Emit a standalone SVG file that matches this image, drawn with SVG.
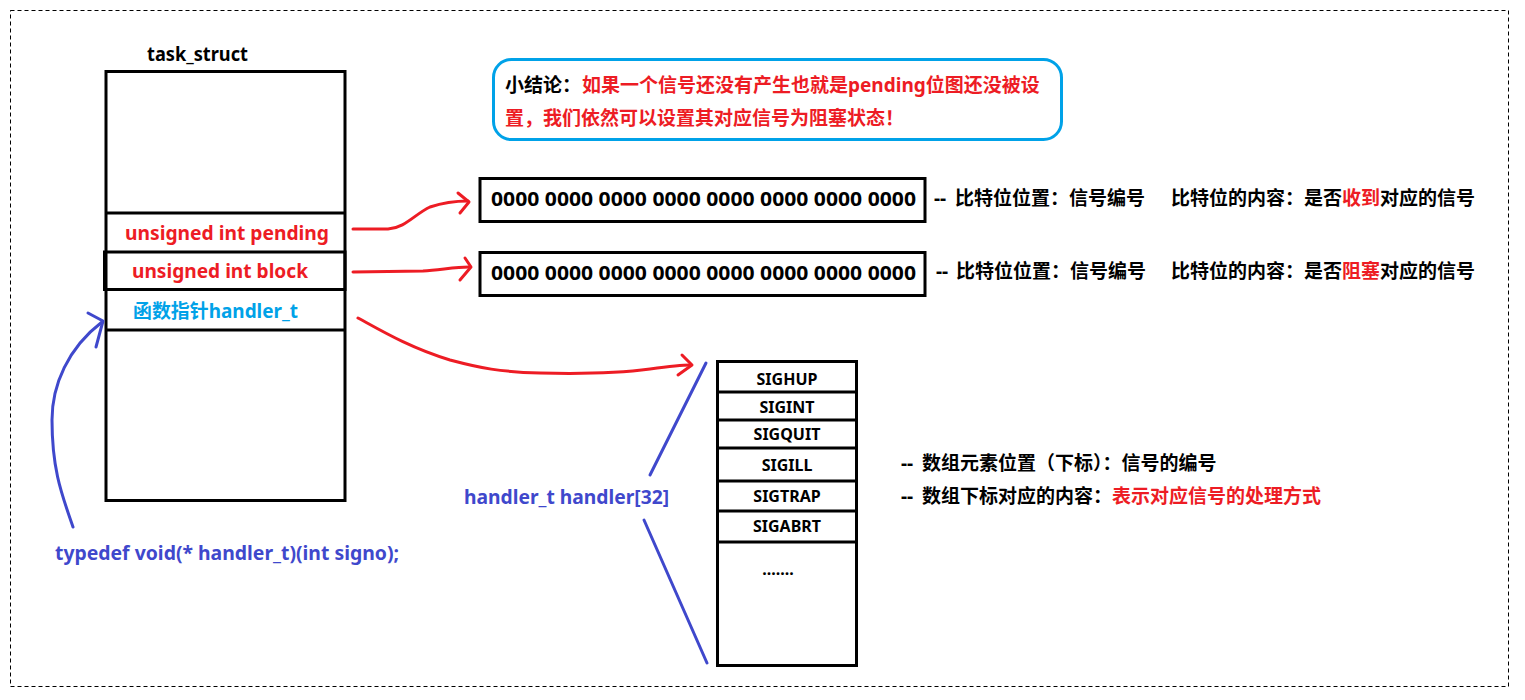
<svg xmlns="http://www.w3.org/2000/svg" width="1525" height="700" viewBox="0 0 1525 700">
<style>
text{font-family:"Noto Sans","Noto Sans CJK SC",sans-serif;font-weight:bold;font-size:19px}
.k{fill:#000}
.r{fill:#ed1c24}
.lb{fill:#00a2e8}
.bp{fill:#3f48cc}
.box{fill:#fff;stroke:#000;stroke-width:3}
.ln{stroke:#000;stroke-width:3;fill:none}
.sig{font-size:16px;text-anchor:middle}
.red{stroke:#ed1c24;stroke-width:3;fill:none;stroke-linecap:round;stroke-linejoin:round}
.blue{stroke:#3f48cc;stroke-width:3;fill:none;stroke-linecap:round;stroke-linejoin:round}
</style>
<rect x="0" y="0" width="1525" height="700" fill="#fff"/>
<rect x="10.5" y="10.5" width="1498" height="676" fill="none" stroke="#000" stroke-width="1" stroke-dasharray="4 3"/>

<g id="task_struct">
<text x="147" y="61" class="k" font-size="18" textLength="101" lengthAdjust="spacingAndGlyphs">task_struct</text>
<rect class="box" x="106" y="71.5" width="239" height="429"/>
<line class="ln" x1="106" y1="213" x2="345" y2="213"/>
<rect class="ln" x="104.5" y="252" width="240.5" height="37.5"/>
<line class="ln" x1="106" y1="330" x2="345" y2="330"/>
<text x="125" y="240" class="r" textLength="204" lengthAdjust="spacingAndGlyphs">unsigned int pending</text>
<text x="132" y="278" class="r" textLength="176" lengthAdjust="spacingAndGlyphs">unsigned int block</text>
<text x="133" y="318" class="lb" textLength="165" lengthAdjust="spacingAndGlyphs">函数指针handler_t</text>
</g>

<g id="callout">
<rect x="493.5" y="59.5" width="568" height="80" rx="18" ry="18" fill="#fff" stroke="#00a2e8" stroke-width="3"/>
<text x="505" y="92"><tspan class="k">小结论：</tspan><tspan class="r" x="582">如果一个信号还没有产生也就是pending位图还没被设</tspan></text>
<text x="505" y="125" class="r">置，我们依然可以设置其对应信号为阻塞状态！</text>
</g>

<g id="pending_bitmap">
<rect class="box" x="480" y="178.5" width="445" height="43"/>
<text x="491" y="206" class="k" textLength="425" lengthAdjust="spacingAndGlyphs">0000 0000 0000 0000 0000 0000 0000 0000</text>
<text x="934" y="205" class="k">--</text>
<text x="955" y="205" class="k">比特位位置：信号编号</text>
<text x="1171" y="205"><tspan class="k">比特位的内容：是否</tspan><tspan class="r">收到</tspan><tspan class="k">对应的信号</tspan></text>
</g>

<g id="block_bitmap">
<rect class="box" x="480" y="252.5" width="445" height="43"/>
<text x="491" y="280" class="k" textLength="425" lengthAdjust="spacingAndGlyphs">0000 0000 0000 0000 0000 0000 0000 0000</text>
<text x="936" y="278" class="k">--</text>
<text x="956" y="278" class="k">比特位位置：信号编号</text>
<text x="1171" y="278"><tspan class="k">比特位的内容：是否</tspan><tspan class="r">阻塞</tspan><tspan class="k">对应的信号</tspan></text>
</g>

<g id="handler_table">
<rect class="box" x="717.5" y="361.5" width="139" height="304"/>
<line class="ln" x1="717" y1="392" x2="857" y2="392"/>
<line class="ln" x1="717" y1="420" x2="857" y2="420"/>
<line class="ln" x1="717" y1="448" x2="857" y2="448"/>
<line class="ln" x1="717" y1="481" x2="857" y2="481"/>
<line class="ln" x1="717" y1="511" x2="857" y2="511"/>
<line class="ln" x1="717" y1="542" x2="857" y2="542"/>
<text x="787" y="385" class="k sig">SIGHUP</text>
<text x="787" y="413" class="k sig">SIGINT</text>
<text x="787" y="440" class="k sig">SIGQUIT</text>
<text x="787" y="471" class="k sig">SIGILL</text>
<text x="787" y="502" class="k sig">SIGTRAP</text>
<text x="787" y="532" class="k sig">SIGABRT</text>
<text x="778" y="575" class="k sig" font-size="14">.......</text>
<text x="464" y="504" class="bp" textLength="205" lengthAdjust="spacingAndGlyphs">handler_t handler[32]</text>
<text x="901" y="470" class="k">--</text>
<text x="922" y="470" class="k">数组元素位置（下标）：信号的编号</text>
<text x="901" y="503" class="k">--</text>
<text x="922" y="503"><tspan class="k">数组下标对应的内容：</tspan><tspan class="r">表示对应信号的处理方式</tspan></text>
</g>

<g id="typedef">
<text x="55" y="560" class="bp" textLength="344" lengthAdjust="spacingAndGlyphs">typedef void(* handler_t)(int signo);</text>
</g>

<g id="connectors">
<path class="red" d="M353,229 L388,229 C405,228 415,214 430,207 C445,202 455,201 468,201"/>
<polyline class="red" points="458,193 469,202 460,213"/>
<path class="red" d="M353,272 L423,271 C440,270 455,267 469,267"/>
<polyline class="red" points="465,258 471,267 460,280"/>
<path class="red" d="M358,318 C380,330 410,348 450,360 C480,368 500,372 540,373 C580,374 620,373 650,369 C665,367 680,365 690,365"/>
<polyline class="red" points="682,355 692,365 678,375"/>
<line class="blue" x1="706" y1="363" x2="650" y2="475"/>
<line class="blue" x1="644" y1="520" x2="707" y2="663"/>
<path class="blue" d="M73,527 C62,495 52,470 52,420 C52,385 68,348 102,322"/>
<polyline class="blue" points="88,313 103,321 96,347"/>
</g>
</svg>
